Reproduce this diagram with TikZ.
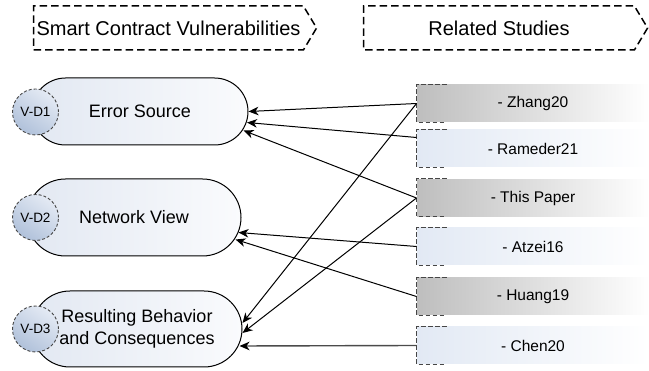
\documentclass[tikz,border=0pt]{standalone}
\usepackage{fontspec}
\setmainfont{Liberation Sans}
\usepackage{tikz}
\usetikzlibrary{calc,backgrounds,arrows.meta}
\usetikzlibrary{shapes.misc,shapes.symbols}
\definecolor{pillleft}{RGB}{226,232,242}
\definecolor{pillright}{RGB}{250,251,253}
\definecolor{tagdark}{RGB}{176,193,218}
\definecolor{taglight}{RGB}{228,234,244}
\definecolor{tagline}{RGB}{70,70,70}
\definecolor{graystudy}{RGB}{190,190,190}
\definecolor{bluestudy}{RGB}{226,233,244}
\definecolor{chenline}{RGB}{75,75,75}
\tikzstyle{survey}=[
  x=1pt, y=-1pt, >={Stealth[length=10pt,width=8.5pt,inset=3pt]}, line width=1pt
]
\tikzstyle{header}=[
  draw, signal, signal to=east, signal pointer angle=118, line width=1.5pt,
  dash pattern=on 7.5pt off 4pt, minimum height=44pt, inner sep=0pt,
  font=\fontsize{20}{24}\selectfont
]
\tikzstyle{vuln}=[
  draw, rounded rectangle, line width=1pt, left color=pillleft, right color=pillright,
  inner sep=0pt, align=center, font=\fontsize{18}{21.5}\selectfont
]
\tikzstyle{vtag}=[
  draw=tagline, circle, dash pattern=on 3pt off 2pt, line width=0.9pt,
  bottom color=tagdark, top color=taglight, shading angle=-35,
  minimum size=46pt, inner sep=0pt, font=\fontsize{13.5}{16}\selectfont
]
\tikzstyle{study}=[
  rectangle, minimum width=232pt, minimum height=37pt, inner sep=0pt,
  right color=white, font=\fontsize{15.5}{18}\selectfont
]
\tikzstyle{graystudy}=[left color=graystudy, right color=white]
\tikzstyle{bluestudy}=[left color=bluestudy, right color=white]
\tikzstyle{bracket}=[
  draw=tagline, line width=1pt, dash pattern=on 4.5pt off 2.5pt
]
\begin{document}
\begin{tikzpicture}[survey]
  \useasboundingbox (0,0) rectangle (649,371);
  % headers
  \node (vulnhead) at (168.5, 28) [header, minimum width=283pt] {Smart Contract Vulnerabilities};
  \node (studyhead) at (499, 28) [header, minimum width=284pt] {Related Studies};

  % vulnerability dimensions
  \node (es) at (140, 111.5) [vuln, minimum width=216pt, minimum height=67pt] {Error Source};
  \node (nv) at (134, 217.5) [vuln, minimum width=214pt, minimum height=77pt] {Network View};
  \node (rb) at (137, 329) [vuln, minimum width=210pt, minimum height=76pt] {Resulting Behavior\\and Consequences};
  \node (vd1) at (35.5, 112) [vtag] {V-D1};
  \node (vd2) at (35.5, 217.5) [vtag] {V-D2};
  \node (vd3) at (35.5, 329) [vtag] {V-D3};

  % studies
  \node (zhang) at (533, 103.5) [study, graystudy] {- Zhang20};
  \node (rameder) at (533, 148.5) [study, bluestudy] {- Rameder21};
  \node (thispaper) at (533, 198) [study, graystudy] {- This Paper};
  \node (atzei) at (533, 246.5) [study, bluestudy] {- Atzei16};
  \node (huang) at (533, 296.5) [study, graystudy] {- Huang19};
  \node (chen) at (533, 345.5) [study, bluestudy] {- Chen20};
  \foreach \s in {zhang,rameder,thispaper,atzei,huang,chen}
    \draw [bracket] ([xshift=30pt]\s.north west) -| (\s.south west) -- ([xshift=30pt]\s.south west);

  % links
  \draw [->] (zhang.west) -- (es.east);
  \draw [->] ([yshift=11pt]rameder.west) -- ($(es.east)+(-1.5,11)$);
  \draw [->] (thispaper.west) -- ($(es.east)+(-5,19)$);
  \draw [->] (zhang.west) -- ($(rb.east)+(0,-6)$);
  \draw [->] (thispaper.west) -- ($(rb.east)+(0,4)$);
  \draw [->] (atzei.west) -- ($(nv.east)+(-3,15)$);
  \draw [->] (huang.west) -- ($(nv.east)+(-6,22)$);
  \draw [draw=chenline, line width=1.4pt, -{Stealth[length=10pt,width=8.5pt,inset=3pt,color=black]}] (chen.west) -- ($(rb.east)+(-3,17)$);
\end{tikzpicture}
\end{document}
